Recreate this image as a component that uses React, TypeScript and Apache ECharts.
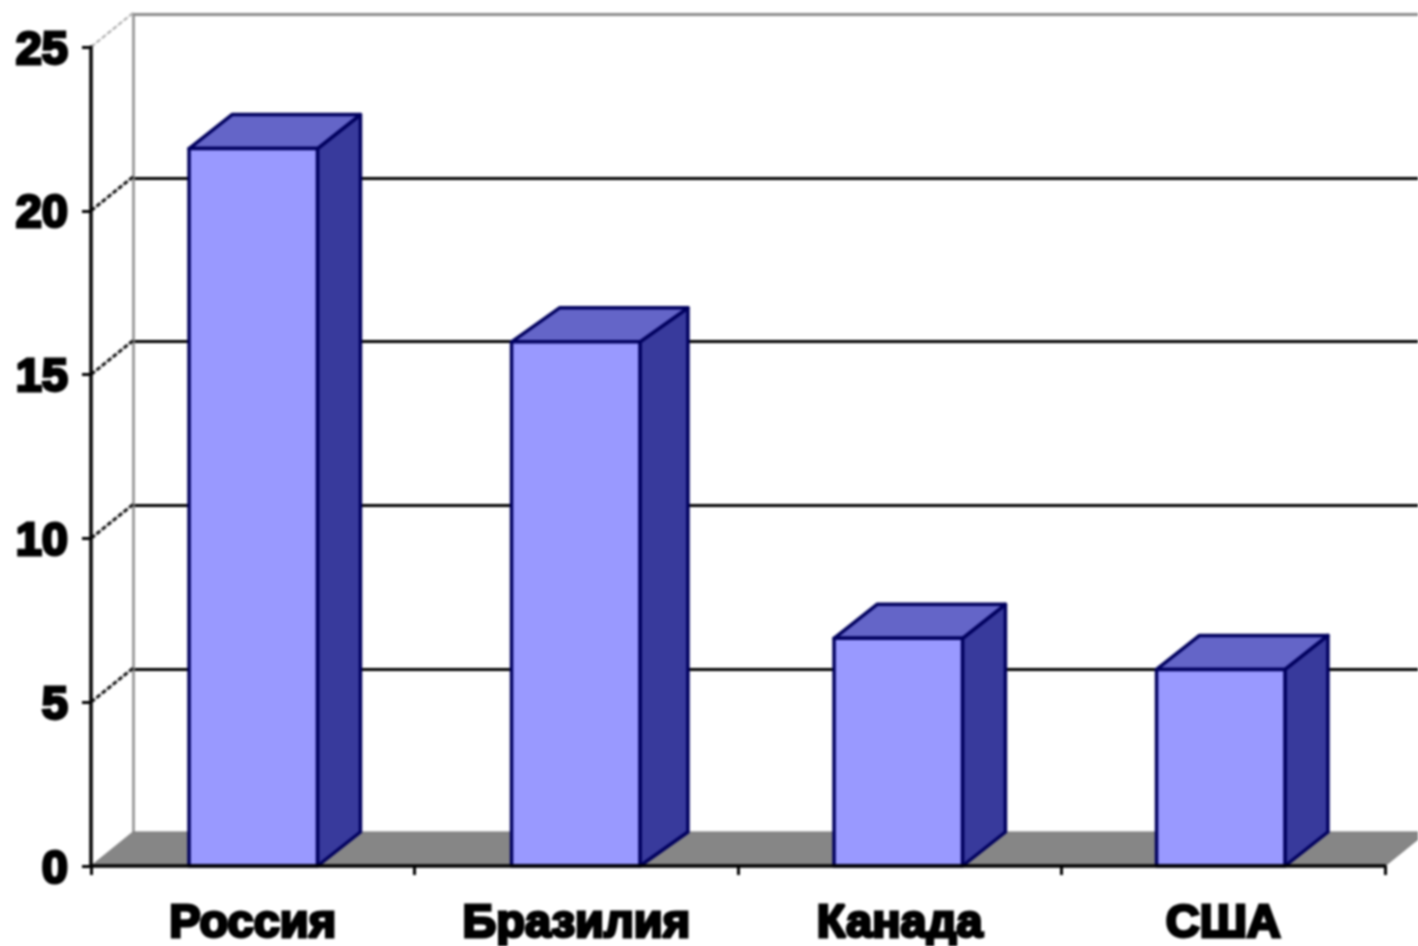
import React, { useEffect, useRef } from "react";
import * as echarts from "echarts";

const categories = ["Россия", "Бразилия", "Канада", "США"];
const values = [21.9, 16, 6.95, 6];
const yTicks = [0, 5, 10, 15, 20, 25];

const DX = 42;
const DY = -34;
const sideDepth = [43, 48, 43, 43];
const barShift = [0.5, -0.5, -1.5, -2.5];
const FONT = "'Liberation Sans', Arial, sans-serif";
const splitColors = ["#8c8c8c", "#000", "#000", "#000", "#000", "#8c8c8c"];

export default function App() {
  const ref = useRef<HTMLDivElement>(null);
  useEffect(() => {
    document.body.style.margin = "0";
    const chart = echarts.init(ref.current!, null, { renderer: "svg" });

    const renderBar = (params: any, api: any) => {
      const i = params.dataIndex;
      const base = api.coord([api.value(0), 0]);
      const top = api.coord([api.value(0), api.value(1)]);
      const w = api.size([1, 0])[0] * 0.397;
      const cx = base[0] + barShift[i];
      const l = cx - w / 2;
      const r = cx + w / 2;
      const d = sideDepth[i];
      const style = (fill: string) => ({ fill, stroke: "#00005e", lineWidth: 3.5, lineJoin: "round" });
      return {
        type: "group",
        children: [
          {
            type: "polygon",
            shape: { points: [[r, top[1]], [r + d, top[1] + DY], [r + d, base[1] + DY], [r, base[1]]] },
            style: style("#383a9c"),
          },
          {
            type: "polygon",
            shape: { points: [[l, top[1]], [l + d, top[1] + DY], [r + d, top[1] + DY], [r, top[1]]] },
            style: style("#6465c8"),
          },
          {
            type: "rect",
            shape: { x: l, y: top[1], width: w, height: base[1] - top[1] },
            style: style("#9999ff"),
          },
        ],
      };
    };

    const renderFloor = (params: any, api: any) => {
      const cs = params.coordSys;
      const x0 = cs.x;
      const x1 = cs.x + cs.width;
      const y0 = cs.y + cs.height;
      return {
        type: "polygon",
        shape: { points: [[x0, y0], [x0 + DX, y0 + DY], [x1 + DX, y0 + DY], [x1, y0]] },
        style: { fill: "#868686", stroke: "#777", lineWidth: 1 },
      };
    };

    const renderConnector = (params: any, api: any) => {
      const v = api.value(0);
      const p = api.coord([0, v]);
      const cs = params.coordSys;
      const x = cs.x;
      return {
        type: "line",
        shape: { x1: x, y1: p[1], x2: x + DX, y2: p[1] + DY },
        style: {
          stroke: v === 25 ? "#a8a8a8" : "#111",
          lineWidth: v === 25 ? 2 : 3,
          lineDash: [5, 2],
        },
      };
    };

    const labelStyle = {
      fontFamily: FONT,
      fontWeight: "bold",
      fontSize: 47,
      color: "#000",
      textBorderColor: "#000",
      textBorderWidth: 3,
    };

    chart.setOption({
      animation: false,
      backgroundColor: "#ffffff",
      grid: [
        { left: 91, top: 47, width: 1294, height: 819 },
        { left: 133, top: 14, width: 1294, height: 819 },
      ],
      xAxis: [
        {
          type: "category",
          gridIndex: 0,
          data: categories,
          axisLine: { lineStyle: { color: "#000", width: 3.5 } },
          axisTick: { show: true, length: 9, lineStyle: { color: "#000", width: 3 } },
          axisLabel: { interval: 0, margin: 31, ...labelStyle },
          z: 6,
        },
        { type: "category", gridIndex: 1, data: categories, show: false },
      ],
      yAxis: [
        {
          type: "value",
          gridIndex: 0,
          min: 0,
          max: 25,
          interval: 5,
          axisLine: { show: true, lineStyle: { color: "#000", width: 3.5 } },
          axisTick: { show: true, length: 9, lineStyle: { color: "#000", width: 3 } },
          axisLabel: { margin: 23, ...labelStyle },
          splitLine: { show: false },
          z: 6,
        },
        {
          type: "value",
          gridIndex: 1,
          min: 0,
          max: 25,
          interval: 5,
          axisLine: { show: true, lineStyle: { color: "#8c8c8c", width: 2.5 } },
          axisTick: { show: false },
          axisLabel: { show: false },
          splitLine: { show: true, lineStyle: { color: splitColors, width: 3 } },
        },
      ],
      series: [
        {
          type: "custom",
          xAxisIndex: 0,
          yAxisIndex: 0,
          renderItem: renderFloor,
          data: [[0, 0]],
          clip: false,
          silent: true,
          z: 2,
        },
        {
          type: "custom",
          xAxisIndex: 0,
          yAxisIndex: 0,
          renderItem: renderConnector,
          data: yTicks.slice(1).map((t) => [t]),
          encode: { y: 0 },
          clip: false,
          silent: true,
          z: 2,
        },
        {
          type: "custom",
          xAxisIndex: 0,
          yAxisIndex: 0,
          renderItem: renderBar,
          data: values.map((v, i) => [i, v]),
          encode: { x: 0, y: 1 },
          clip: false,
          z: 3,
        },
      ],
    });
    return () => chart.dispose();
  }, []);
  return (
    <div
      ref={ref}
      style={{ width: 1418, height: 946, filter: "blur(1px)", overflow: "hidden" }}
    />
  );
}
